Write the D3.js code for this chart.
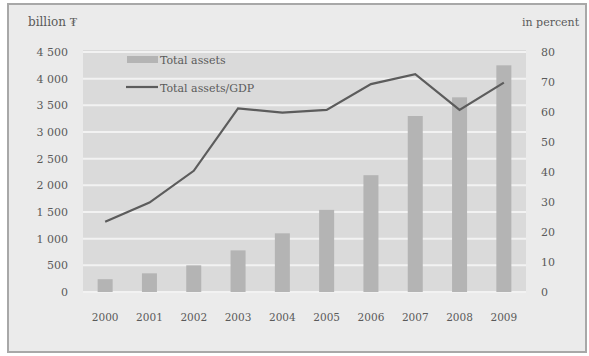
<!DOCTYPE html>
<html><head><meta charset="utf-8">
<script src="https://cdn.jsdelivr.net/npm/d3@7"></script>
<style>body{margin:0;background:#fff}svg{display:block}</style>
</head><body><svg id="c" width="589" height="356"></svg>
<script>
const years = ["2000","2001","2002","2003","2004","2005","2006","2007","2008","2009"];
const totalAssets = [240, 350, 500, 780, 1100, 1540, 2190, 3300, 3650, 4250];
const assetsToGDP = [23.4, 29.8, 40.4, 61.2, 59.8, 60.7, 69.3, 72.6, 60.7, 69.8];
const leftTicks = [0, 500, 1000, 1500, 2000, 2500, 3000, 3500, 4000, 4500];
const rightTicks = [0, 10, 20, 30, 40, 50, 60, 70, 80];
const legendLabels = ["Total assets", "Total assets/GDP"];

const svg = d3.select("#c");
const font = "DejaVu Serif";
const txt = "#5a5a5a";
const m = {l: 83, r: 526, t: 52, b: 292};

svg.append("rect").attr("x", 8).attr("y", 4).attr("width", 578).attr("height", 348)
  .attr("fill", "#ebebeb").attr("stroke", "#a8a8a8").attr("stroke-width", 2);

const x = d3.scaleBand().domain(years).range([m.l, m.r]).paddingInner(0).paddingOuter(0);
const yL = d3.scaleLinear().domain([0, 4500]).range([m.b, m.t]);
const yR = d3.scaleLinear().domain([0, 80]).range([m.b, m.t]);

svg.append("rect").attr("x", m.l).attr("y", m.t - 2).attr("width", m.r - m.l).attr("height", m.b - m.t + 2)
  .attr("fill", "#dadada");

svg.append("g").selectAll("line").data(leftTicks).join("line")
  .attr("x1", m.l).attr("x2", m.r).attr("y1", d => yL(d)).attr("y2", d => yL(d))
  .attr("stroke", "#f2f2f2").attr("stroke-width", 2);

const loc = d3.formatLocale({decimal: ".", thousands: " ", grouping: [3], currency: ["", ""]});
const fmt = loc.format(",d");

const axL = svg.append("g").attr("transform", `translate(${m.l - 12},0)`)
  .call(d3.axisLeft(yL).tickValues(leftTicks).tickFormat(fmt).tickSize(0));
axL.select(".domain").remove();
axL.selectAll("text").attr("font-family", font).attr("font-size", 11).attr("fill", txt);

const axR = svg.append("g").attr("transform", `translate(${m.r + 12},0)`)
  .call(d3.axisRight(yR).tickValues(rightTicks).tickSize(0));
axR.select(".domain").remove();
axR.selectAll("text").attr("font-family", font).attr("font-size", 11).attr("fill", txt);

const axB = svg.append("g").attr("transform", `translate(0,${m.b + 19})`)
  .call(d3.axisBottom(x).tickSize(0));
axB.select(".domain").remove();
axB.selectAll("text").attr("font-family", font).attr("font-size", 10.5).attr("fill", txt);

const bw = 15;
svg.append("g").selectAll("rect").data(years).join("rect")
  .attr("x", d => x(d) + x.bandwidth() / 2 - bw / 2)
  .attr("width", bw)
  .attr("y", (d, i) => yL(totalAssets[i]))
  .attr("height", (d, i) => yL(0) - yL(totalAssets[i]))
  .attr("fill", "#b4b4b4");

const line = d3.line().x((d, i) => x(years[i]) + x.bandwidth() / 2).y(d => yR(d));
svg.append("path").datum(assetsToGDP).attr("d", line)
  .attr("fill", "none").attr("stroke", "#5c5c5c").attr("stroke-width", 2.2);

// legend
const lg = svg.append("g");
lg.append("rect").attr("x", 127).attr("y", 56).attr("width", 31).attr("height", 7).attr("fill", "#b4b4b4");
lg.append("line").attr("x1", 126).attr("x2", 158).attr("y1", 87).attr("y2", 87)
  .attr("stroke", "#5c5c5c").attr("stroke-width", 2.2);
lg.selectAll("text").data(legendLabels).join("text")
  .attr("x", 160).attr("y", (d, i) => 64 + i * 28)
  .attr("font-family", font).attr("font-size", 11).attr("fill", txt).text(d => d);

svg.append("text").attr("x", 28).attr("y", 26).attr("font-family", font).attr("font-size", 12)
  .attr("fill", txt).text("billion ₮");
svg.append("text").attr("x", 522).attr("y", 26).attr("font-family", font).attr("font-size", 11)
  .attr("fill", txt).text("in percent");
</script></body></html>
